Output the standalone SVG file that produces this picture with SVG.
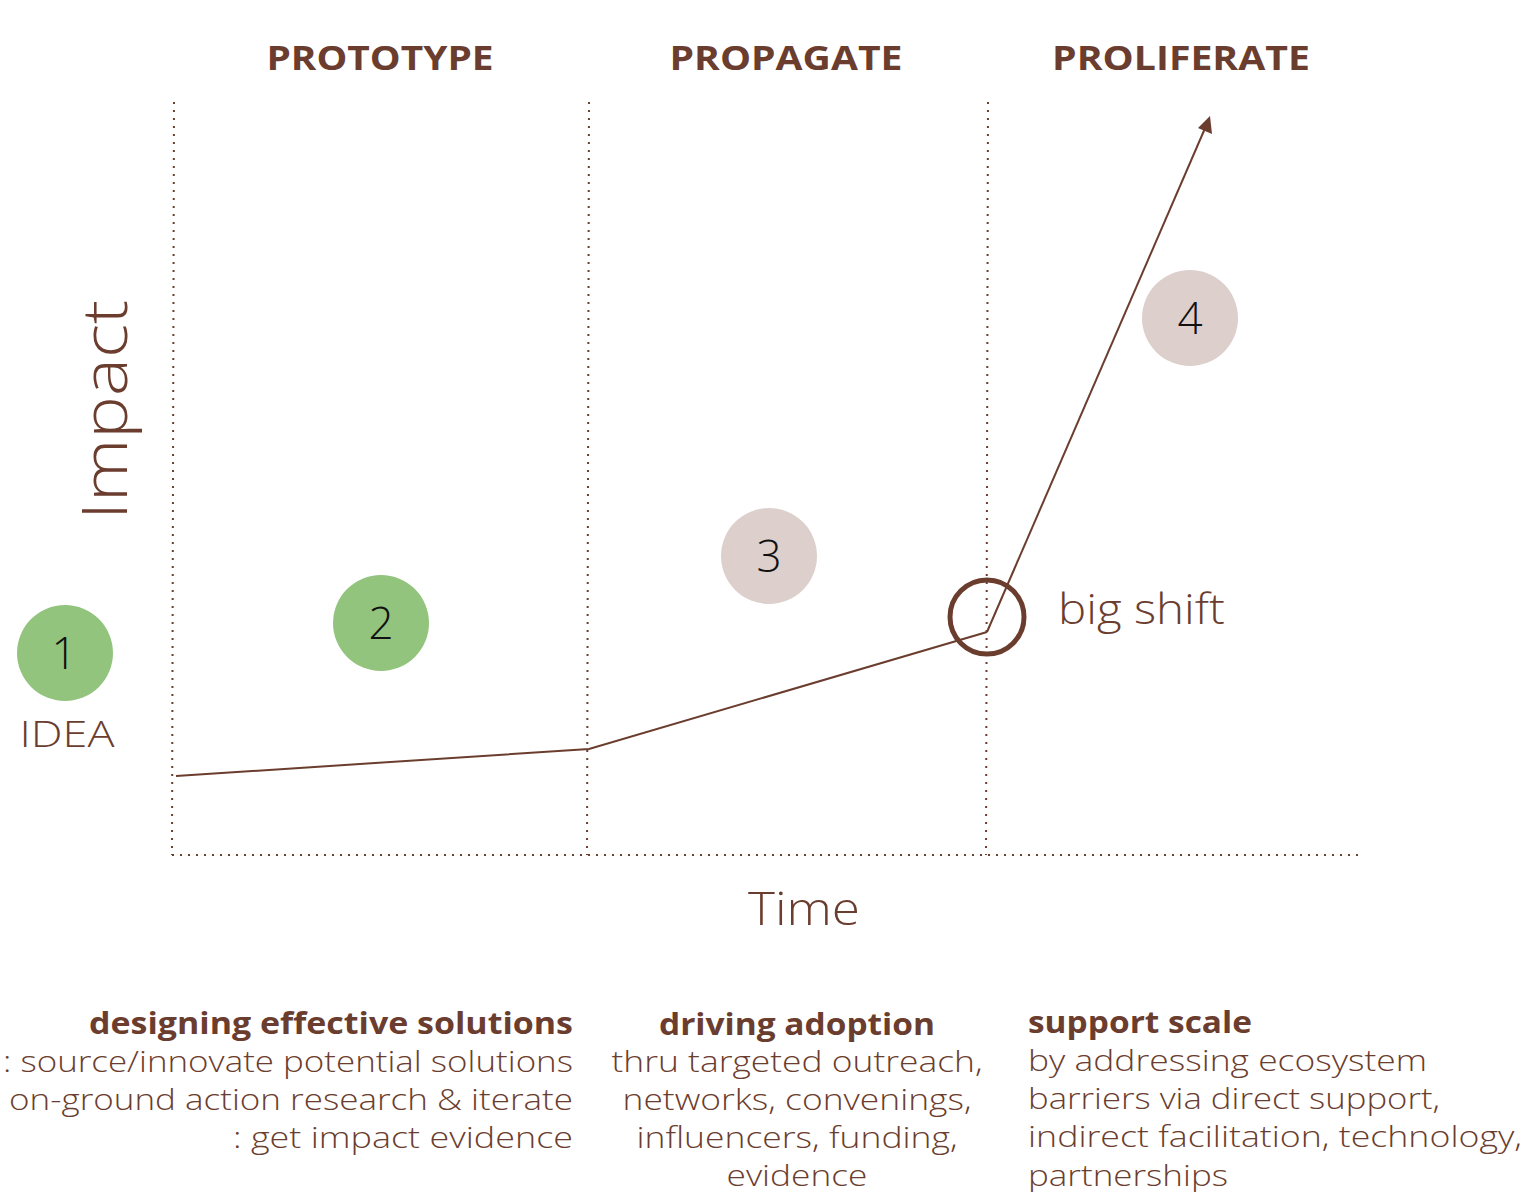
<svg xmlns="http://www.w3.org/2000/svg" width="1527" height="1192" viewBox="0 0 1527 1192">
<defs>
<style>
.t{font-family:"Open Sans","Noto Sans","DejaVu Sans",sans-serif;fill:#6b3d2e}
.title{font-size:34px;font-weight:700}
.light{font-weight:300}
.num{font-family:"Open Sans","Noto Sans",sans-serif;font-weight:300;font-size:44px;fill:#111;text-anchor:middle}
.body{font-size:29px;font-weight:300}
.bold{font-size:30px;font-weight:700}
.dot{stroke:#6b3d2e;stroke-width:2;stroke-dasharray:2 6;fill:none}
.curve{stroke:#6b3d2e;stroke-width:2;fill:none}
</style>
</defs>
<rect width="1527" height="1192" fill="#fff"/>
<g id="titles">
<text class="t title" x="380" y="70" text-anchor="middle" textLength="227" lengthAdjust="spacingAndGlyphs">PROTOTYPE</text>
<text class="t title" x="786" y="70" text-anchor="middle" textLength="233" lengthAdjust="spacingAndGlyphs">PROPAGATE</text>
<text class="t title" x="1181" y="70" text-anchor="middle" textLength="258" lengthAdjust="spacingAndGlyphs">PROLIFERATE</text>
</g>
<g id="grid">
<line class="dot" x1="174" y1="102" x2="172" y2="855"/>
<line class="dot" x1="589" y1="102" x2="587" y2="855"/>
<line class="dot" x1="988" y1="102" x2="986" y2="855"/>
<line class="dot" x1="172" y1="855" x2="1360" y2="855"/>
</g>
<g id="connectors">
<polyline class="curve" points="176,776 589,749 987,632"/>
<line class="curve" x1="987" y1="632" x2="1206" y2="126"/>
<path d="M1210,116 L1212,134 L1198,128 z" fill="#6b3d2e"/>
</g>
<g id="node-1">
<circle cx="65" cy="653" r="48" fill="#92c47d"/>
<text class="num" x="64" y="669">1</text>
<text class="t light" x="67" y="747" font-size="36" text-anchor="middle" textLength="95" lengthAdjust="spacingAndGlyphs">IDEA</text>
</g>
<g id="node-2">
<circle cx="381" cy="623" r="48" fill="#92c47d"/>
<text class="num" x="381" y="639">2</text>
</g>
<g id="node-3">
<circle cx="769" cy="556" r="48" fill="#dccfcc"/>
<text class="num" x="769" y="572">3</text>
</g>
<g id="node-4">
<circle cx="1190" cy="318" r="48" fill="#dccfcc"/>
<text class="num" x="1190" y="334">4</text>
</g>
<g id="big-shift">
<circle cx="987" cy="617" r="37" fill="none" stroke="#6b3d2e" stroke-width="5"/>
<text class="t light" x="1058" y="624" font-size="42" textLength="167" lengthAdjust="spacingAndGlyphs">big shift</text>
</g>
<g id="axes-labels">
<text class="t light" transform="translate(127,410) rotate(-90)" font-size="62" text-anchor="middle" textLength="220" lengthAdjust="spacingAndGlyphs">Impact</text>
<text class="t light" x="804" y="925" font-size="46" text-anchor="middle" textLength="112" lengthAdjust="spacingAndGlyphs">Time</text>
</g>
<g id="desc-prototype" text-anchor="end">
<text class="t bold" x="573" y="1034" textLength="484" lengthAdjust="spacingAndGlyphs">designing effective solutions</text>
<text class="t body" x="573" y="1072" textLength="570" lengthAdjust="spacingAndGlyphs">: source/innovate potential solutions</text>
<text class="t body" x="573" y="1110" textLength="564" lengthAdjust="spacingAndGlyphs">on-ground action research &amp; iterate</text>
<text class="t body" x="573" y="1148" textLength="340" lengthAdjust="spacingAndGlyphs">: get impact evidence</text>
</g>
<g id="desc-propagate" text-anchor="middle">
<text class="t bold" x="797" y="1035" textLength="276" lengthAdjust="spacingAndGlyphs">driving adoption</text>
<text class="t body" x="797" y="1072" textLength="371" lengthAdjust="spacingAndGlyphs">thru targeted outreach,</text>
<text class="t body" x="797" y="1110" textLength="349" lengthAdjust="spacingAndGlyphs">networks, convenings,</text>
<text class="t body" x="797" y="1148" textLength="321" lengthAdjust="spacingAndGlyphs">influencers, funding,</text>
<text class="t body" x="797" y="1186" textLength="141" lengthAdjust="spacingAndGlyphs">evidence</text>
</g>
<g id="desc-proliferate">
<text class="t bold" x="1028" y="1033" textLength="224" lengthAdjust="spacingAndGlyphs">support scale</text>
<text class="t body" x="1028" y="1071" textLength="399" lengthAdjust="spacingAndGlyphs">by addressing ecosystem</text>
<text class="t body" x="1028" y="1109" textLength="412" lengthAdjust="spacingAndGlyphs">barriers via direct support,</text>
<text class="t body" x="1028" y="1147" textLength="494" lengthAdjust="spacingAndGlyphs">indirect facilitation, technology,</text>
<text class="t body" x="1028" y="1186" textLength="200" lengthAdjust="spacingAndGlyphs">partnerships</text>
</g>
</svg>
